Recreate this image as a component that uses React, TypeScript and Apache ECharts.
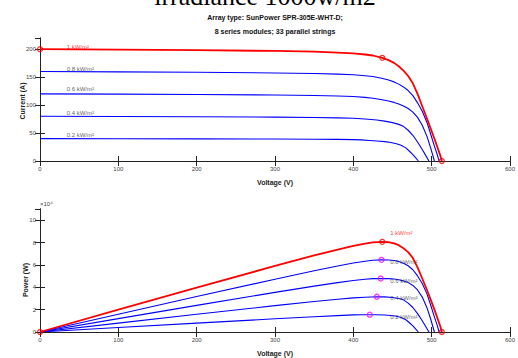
import React, { useEffect, useRef } from "react";
import * as echarts from "echarts";

// Irradiance curve names
const curveNames = ["1 kW/m²", "0.8 kW/m²", "0.6 kW/m²", "0.4 kW/m²", "0.2 kW/m²"];

// Voltage (V) and current (A)
const v100 = [0, 100, 200, 300, 350, 380, 400, 415, 425, 437, 445, 452, 458, 464, 470, 476, 482, 488, 494, 499, 504, 508, 511, 513];
const i100 = [200, 199.2, 198.3, 196.8, 195.5, 194, 192.4, 190.5, 188.7, 184.5, 180.5, 175.5, 169.5, 161.5, 152, 139, 120, 98, 76, 57, 38, 22, 10, 0];

const v80 = [0, 100, 200, 300, 350, 380, 400, 415, 425, 436, 445, 452, 458, 464, 470, 476, 482, 488, 494, 499, 504, 507, 509.5];
const i80 = [160, 159.4, 158.7, 157.5, 156.5, 155.3, 154.2, 152.6, 151, 148, 144.8, 141.5, 137.5, 132.5, 126, 117, 104, 89, 69, 47, 24.5, 12, 0];

const v60 = [0, 100, 200, 300, 350, 380, 400, 415, 425, 435, 445, 452, 458, 464, 470, 476, 482, 488, 494, 499, 503.5];
const i60 = [120, 119.6, 119, 118, 117.2, 116.3, 115.3, 113.8, 112.3, 110, 107.3, 104.8, 102, 98.5, 94, 87.5, 78, 64, 44, 22, 0];

const v40 = [0, 100, 200, 300, 350, 380, 400, 415, 430, 440, 450, 458, 464, 470, 476, 482, 488, 492, 496.5];
const i40 = [80, 79.7, 79.2, 78.5, 77.9, 77.2, 76.4, 75, 73.3, 71.3, 68.6, 65.5, 62, 55, 46, 34, 20.5, 11, 0];

const v20 = [0, 100, 200, 300, 350, 380, 400, 410, 421, 430, 440, 448, 455, 461, 467, 472, 476, 480, 483];
const i20 = [40, 39.8, 39.6, 39.3, 39, 38.6, 38.2, 37.7, 36.8, 35.9, 34.6, 33, 31, 28, 23.5, 17, 11.5, 5, 0];

const voltages = [v100, v80, v60, v40, v20];
const currents = [i100, i80, i60, i40, i20];

// Axis ticks
const xTicks = { min: 0, max: 600, interval: 100 };
const iTicks = { min: 0, max: 220, interval: 50 };
const pTicks = { min: 0, max: 110000, interval: 20000 };

// Annotation anchors (data units)
const ivLabelV = 34;
const ivLabelI = [204, 165, 128, 86.5, 47];
const pvLabelV = [447, 447, 447, 447, 447];
const pvLabelP = [88700, 62500, 45800, 30400, 13700];

const RED = "#ff0000";
const BLUE = "#0000ff";
const MAGENTA = "#ff00ff";
const FONT = "Liberation Sans";

export default function App() {
  const ref = useRef<HTMLDivElement>(null);
  useEffect(() => {
    if (!ref.current) return;
    const chart = echarts.init(ref.current, null, { renderer: "svg" });

    const ivData = voltages.map((vs, k) => vs.map((v, j) => [v, currents[k][j]]));
    const pvData = voltages.map((vs, k) => vs.map((v, j) => [v, v * currents[k][j]]));
    const mppIdx = pvData.map((d) => {
      let best = 0;
      d.forEach((p, j) => {
        if (p[1] > d[best][1]) best = j;
      });
      return best;
    });

    const grids = [
      { left: 40, right: 7, top: 38, height: 123 },
      { left: 40, right: 7, top: 209, height: 123 },
    ];

    const axisLine = { show: true, lineStyle: { color: "#222", width: 1 } };
    const tick = { show: true, inside: true, length: 5, lineStyle: { color: "#222", width: 1 } };
    const label = { fontSize: 6, color: "#444", fontFamily: FONT, margin: 4 };

    const xAxes: any[] = [];
    const yAxes: any[] = [];
    [0, 1].forEach((g) => {
      xAxes.push({
        type: "value", gridIndex: g, position: "bottom", ...xTicks,
        axisLine, axisTick: tick, splitLine: { show: false },
        axisLabel: { ...label, margin: 5 },
      });
      xAxes.push({
        type: "value", gridIndex: g, position: "top", ...xTicks,
        axisLine, axisTick: tick, splitLine: { show: false },
        axisLabel: { show: false },
      });
      const yt = g === 0 ? iTicks : pTicks;
      yAxes.push({
        type: "value", gridIndex: g, position: "left", ...yt,
        axisLine, axisTick: tick, splitLine: { show: false },
        axisLabel: {
          ...label, showMaxLabel: false,
          formatter: g === 0 ? "{value}" : (v: number) => String(v / 10000),
        },
      });
      yAxes.push({
        type: "value", gridIndex: g, position: "right", ...yt,
        axisLine, axisTick: tick, splitLine: { show: false },
        axisLabel: { show: false },
      });
    });

    const series: any[] = [];
    ivData.forEach((d, k) => {
      series.push({
        type: "line", xAxisIndex: 0, yAxisIndex: 0, data: d,
        showSymbol: false, smooth: false,
        lineStyle: { color: k === 0 ? RED : BLUE, width: k === 0 ? 1.8 : 1.1, join: "round" },
        z: k === 0 ? 4 : 3,
      });
    });
    pvData.forEach((d, k) => {
      series.push({
        type: "line", xAxisIndex: 2, yAxisIndex: 2, data: d,
        showSymbol: false, smooth: false,
        lineStyle: { color: k === 0 ? RED : BLUE, width: k === 0 ? 1.8 : 1.1, join: "round" },
        z: k === 0 ? 4 : 3,
      });
    });

    const hollow = (c: string) => ({ color: "rgba(0,0,0,0)", borderColor: c, borderWidth: 1.3 });
    const iv0 = ivData[0];
    series.push({
      type: "scatter", xAxisIndex: 0, yAxisIndex: 0, symbol: "circle", symbolSize: 5,
      itemStyle: hollow(RED), z: 6,
      data: [iv0[0], iv0[mppIdx[0]], iv0[iv0.length - 1]],
    });
    const pv0 = pvData[0];
    series.push({
      type: "scatter", xAxisIndex: 2, yAxisIndex: 2, symbol: "circle", symbolSize: 5,
      itemStyle: hollow(RED), z: 6,
      data: [pv0[0], pv0[mppIdx[0]], pv0[pv0.length - 1]],
    });
    series.push({
      type: "scatter", xAxisIndex: 2, yAxisIndex: 2, symbol: "circle", symbolSize: 5,
      itemStyle: hollow(MAGENTA), z: 6,
      data: pvData.slice(1).map((d, k) => d[mppIdx[k + 1]]),
    });

    const lblStyle = (c: string) => ({
      show: true, position: "right", distance: 0, formatter: "{b}",
      fontSize: 6, color: c, fontFamily: FONT,
    });
    series.push({
      type: "scatter", xAxisIndex: 0, yAxisIndex: 0, symbolSize: 0, z: 7, silent: true,
      data: curveNames.map((n, k) => ({
        name: n, value: [ivLabelV, ivLabelI[k]],
        label: lblStyle(k === 0 ? RED : "#333"),
      })),
    });
    series.push({
      type: "scatter", xAxisIndex: 2, yAxisIndex: 2, symbolSize: 0, z: 7, silent: true,
      data: curveNames.map((n, k) => ({
        name: n, value: [pvLabelV[k], pvLabelP[k]],
        label: lblStyle(k === 0 ? RED : "#333"),
      })),
    });

    const axisName = (text: string, x: number, y: number, rot = 0) => ({
      type: "text", x, y, rotation: rot, silent: true,
      style: {
        text, fontSize: 7, fontWeight: "bold", fontFamily: FONT, fill: "#222",
        align: "center", verticalAlign: "middle",
      },
    });

    chart.setOption({
      animation: false,
      backgroundColor: "#fff",
      grid: grids,
      xAxis: xAxes,
      yAxis: yAxes,
      series,
      graphic: [
        {
          type: "text", x: 265, y: -4, silent: true,
          style: {
            text: "irradiance 1000w/m2", fontSize: 26, fontFamily: "Liberation Serif",
            fill: "#000", align: "center", verticalAlign: "middle",
          },
        },
        {
          type: "text", x: 275, y: 17, silent: true,
          style: {
            text: "Array type: SunPower SPR-305E-WHT-D;", fontSize: 7, fontWeight: "bold",
            fontFamily: FONT, fill: "#111", align: "center", verticalAlign: "middle",
          },
        },
        {
          type: "text", x: 275, y: 31, silent: true,
          style: {
            text: "8 series modules; 33 parallel strings", fontSize: 7, fontWeight: "bold",
            fontFamily: FONT, fill: "#111", align: "center", verticalAlign: "middle",
          },
        },
        axisName("Current (A)", 22, 101, Math.PI / 2),
        axisName("Power (W)", 25, 280, Math.PI / 2),
        axisName("Voltage (V)", 275, 182),
        axisName("Voltage (V)", 275, 353),
        {
          type: "text", x: 40, y: 204, silent: true,
          style: {
            text: "×10⁴", fontSize: 6, fontFamily: FONT, fill: "#444",
            align: "left", verticalAlign: "middle",
          },
        },
      ],
    });
    return () => chart.dispose();
  }, []);
  return (
    <div
      ref={ref}
      style={{ position: "fixed", left: 0, top: 0, width: 518, height: 358 }}
    />
  );
}
